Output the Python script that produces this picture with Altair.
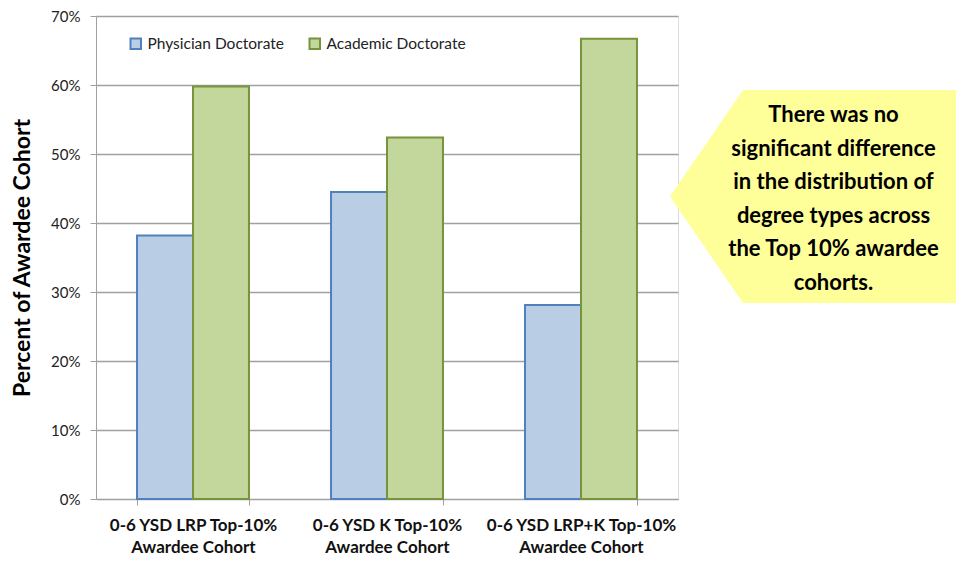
import altair as alt
import pandas as pd

cohorts = [
    "0-6 YSD LRP Top-10%\nAwardee Cohort",
    "0-6 YSD K Top-10%\nAwardee Cohort",
    "0-6 YSD LRP+K Top-10%\nAwardee Cohort",
]
degrees = ["Physician Doctorate", "Academic Doctorate"]
physician = [38.2, 44.5, 28.1]
academic = [59.8, 52.4, 66.7]
y_ticks = [0, 10, 20, 30, 40, 50, 60, 70]
note_lines = [
    "There was no",
    "significant difference",
    "in the distribution of",
    "degree types across",
    "the Top 10% awardee",
    "cohorts.",
]

rows = []
for c, p, a in zip(cohorts, physician, academic):
    rows.append({"cohort": c, "degree": degrees[0], "pct": p})
    rows.append({"cohort": c, "degree": degrees[1], "pct": a})
df = pd.DataFrame(rows)

FONT = "Lato"
GRID = "#A0A0A0"

legend = alt.Legend(
    title=None, orient="none", legendX=32, legendY=20, direction="horizontal",
    symbolType="square", symbolSize=110, symbolStrokeWidth=2, labelFontSize=15.5,
    labelColor="#222", labelFont=FONT, columnPadding=21, symbolOffset=0, labelOffset=4,
)

bars = alt.Chart(df).mark_bar(strokeWidth=2).encode(
    x=alt.X(
        "cohort:N", sort=cohorts, title=None,
        scale=alt.Scale(paddingInner=0.423, paddingOuter=0.2115),
        axis=alt.Axis(
            labelExpr="split(datum.label, '\\n')", tickBand="extent", labelAngle=0,
            labelFontSize=17, labelFontWeight="bold", labelLineHeight=22,
            labelPadding=12, tickSize=6, labelColor="#111", labelFont=FONT,
            domainColor=GRID, tickColor=GRID, labelBaseline="top", labelLimit=400,
        ),
    ),
    xOffset=alt.XOffset("degree:N", sort=degrees, scale=alt.Scale(paddingInner=0, paddingOuter=0)),
    y=alt.Y(
        "pct:Q", scale=alt.Scale(domain=[0, 70], nice=False),
        axis=alt.Axis(
            values=y_ticks, labelExpr="datum.value + '%'", title="Percent of Awardee Cohort",
            titleFontSize=23, titleFontWeight="bold", titleFont=FONT, titleColor="#000",
            titleX=-74, titleY=241.5, titleAlign="center", titleBaseline="middle", titleAngle=-90,
            labelFontSize=15, labelColor="#222", labelFont=FONT, labelPadding=10, tickSize=6,
            grid=True, gridColor=GRID, gridWidth=1.3, domainColor=GRID, tickColor=GRID,
        ),
    ),
    fill=alt.Fill("degree:N", sort=degrees,
                  scale=alt.Scale(domain=degrees, range=["#B9CDE5", "#C3D69B"]), legend=legend),
    stroke=alt.Stroke("degree:N", sort=degrees,
                      scale=alt.Scale(domain=degrees, range=["#4F81BD", "#77933C"]), legend=legend),
)

callout = alt.Chart(alt.Data(values=[{"k": 1}])).mark_point(
    shape="M -1 0 L -0.497 -0.734 L 1 -0.734 L 1 0.734 L -0.497 0.734 Z",
    filled=True, fill="#FFFF99", opacity=1, size=84100, strokeWidth=0, clip=False,
).encode(x=alt.value(719), y=alt.value(180.5))

note = alt.Chart(alt.Data(values=[{"k": 1}])).mark_text(
    align="center", baseline="alphabetic", fontSize=22, fontWeight="bold", font=FONT,
    lineHeight=33.6, color="#000", clip=False,
).encode(x=alt.value(737.5), y=alt.value(106), text=alt.value(note_lines))

chart = alt.layer(bars, callout, note).properties(
    width=582, height=483,
    autosize=alt.AutoSizeParams(type="none"),
    padding={"left": 88, "top": 8, "right": 278, "bottom": 58},
).configure_view(
    fill="#EFF4FC", stroke=GRID, strokeWidth=1.3,
).configure(background="white", font=FONT)

chart.save("out.html", embed_options={"renderer": "svg", "actions": False})
